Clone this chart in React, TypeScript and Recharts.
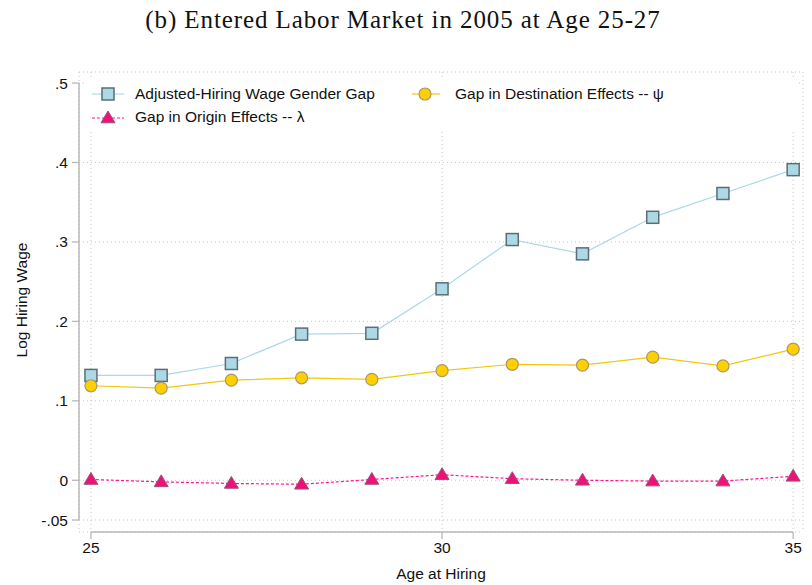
import { LineChart, Line, XAxis, YAxis, CartesianGrid, Legend, ReferenceLine } from "recharts";

const ages = [25, 26, 27, 28, 29, 30, 31, 32, 33, 34, 35];
const wageGap = [0.132, 0.132, 0.147, 0.184, 0.185, 0.241, 0.303, 0.285, 0.331, 0.361, 0.391];
const destGap = [0.119, 0.116, 0.126, 0.129, 0.127, 0.138, 0.146, 0.145, 0.155, 0.144, 0.165];
const originGap = [0.001, -0.002, -0.004, -0.005, 0.001, 0.007, 0.002, 0.0, -0.001, -0.001, 0.005];

const yTicks = [-0.05, 0, 0.1, 0.2, 0.3, 0.4, 0.5];
const xTicks = [25, 30, 35];

const X_MIN = 24.83;
const X_MAX = 35.14;
const Y_MIN = -0.0651;
const Y_MAX = 0.5139;

const COLORS = {
  gap: "#add8e6",
  gapEdge: "#5b6e76",
  dest: "#ffd000",
  destLine: "#f2c70c",
  destEdge: "#a8976a",
  origin: "#ee1177",
  originLine: "#ff1493",
  originEdge: "#9b5578",
  axis: "#b8b8b8",
  grid: "#c6c6c6",
};

const data = ages.map((age, i) => ({
  age,
  gap: wageGap[i],
  dest: destGap[i],
  origin: originGap[i],
}));

const fmtY = (v: number) => {
  if (v === 0) return "0";
  const s = String(v);
  return s.replace("0.", ".");
};

function SquareDot(props: any) {
  const { cx, cy } = props;
  if (cx == null || cy == null) return null;
  return <rect x={cx - 6} y={cy - 6} width={12} height={12} fill={COLORS.gap} stroke={COLORS.gapEdge} strokeWidth={1.5} />;
}

function CircleDot(props: any) {
  const { cx, cy } = props;
  if (cx == null || cy == null) return null;
  return <circle cx={cx} cy={cy} r={6} fill={COLORS.dest} stroke={COLORS.destEdge} strokeWidth={1.2} />;
}

function TriangleDot(props: any) {
  const { cx, cy } = props;
  if (cx == null || cy == null) return null;
  return (
    <polygon
      points={`${cx - 7},${cy + 4.8} ${cx + 7},${cy + 4.8} ${cx},${cy - 7}`}
      fill={COLORS.origin}
      stroke={COLORS.originEdge}
      strokeWidth={1}
    />
  );
}

function LegendItem({ kind, label }: { kind: "gap" | "dest" | "origin"; label: string }) {
  return (
    <div style={{ display: "flex", alignItems: "center", height: 23 }}>
      <svg width={43} height={16}>
        {kind === "gap" && (
          <>
            <line x1={0} y1={8} x2={32} y2={8} stroke={COLORS.gap} strokeWidth={1.2} />
            <rect x={10} y={2} width={12} height={12} fill={COLORS.gap} stroke={COLORS.gapEdge} strokeWidth={1.5} />
          </>
        )}
        {kind === "dest" && (
          <>
            <line x1={0} y1={8} x2={28} y2={8} stroke={COLORS.destLine} strokeWidth={1.2} />
            <circle cx={13} cy={8} r={6} fill={COLORS.dest} stroke={COLORS.destEdge} strokeWidth={1.2} />
          </>
        )}
        {kind === "origin" && (
          <>
            <line x1={0} y1={9} x2={32} y2={9} stroke={COLORS.originLine} strokeWidth={1.2} strokeDasharray="3 2" />
            <polygon points="9,13.8 23,13.8 16,2" fill={COLORS.origin} stroke={COLORS.originEdge} strokeWidth={1} />
          </>
        )}
      </svg>
      <span style={{ fontSize: 15.5, color: "#111", whiteSpace: "nowrap" }}>{label}</span>
    </div>
  );
}

function ChartLegend() {
  return (
    <div style={{ position: "relative", width: 715, height: 54, background: "#fff" }}>
      <div style={{ position: "absolute", left: 8, top: 5 }}>
        <LegendItem kind="gap" label="Adjusted-Hiring Wage Gender Gap" />
        <LegendItem kind="origin" label="Gap in Origin Effects -- λ" />
      </div>
      <div style={{ position: "absolute", left: 328, top: 5 }}>
        <LegendItem kind="dest" label="Gap in Destination Effects -- ψ" />
      </div>
    </div>
  );
}

export default function App() {
  return (
    <div
      style={{
        position: "absolute",
        left: 0,
        top: 0,
        width: 812,
        height: 585,
        background: "#fff",
        fontFamily: "'Liberation Sans', Arial, sans-serif",
      }}
    >
      <div
        style={{
          position: "absolute",
          left: 0,
          top: 6,
          width: 806,
          textAlign: "center",
          fontFamily: "'Liberation Serif', 'Times New Roman', serif",
          fontSize: 25,
          letterSpacing: 0.9,
          color: "#111",
        }}
      >
        (b) Entered Labor Market in 2005 at Age 25-27
      </div>
      <div
        style={{
          position: "absolute",
          left: 22,
          top: 300,
          transform: "translate(-50%, -50%) rotate(-90deg)",
          fontSize: 15.5,
          color: "#111",
          whiteSpace: "nowrap",
        }}
      >
        Log Hiring Wage
      </div>
      <LineChart width={812} height={585} data={data} margin={{ top: 72, right: 9, left: 0, bottom: 0 }}>
        <CartesianGrid strokeDasharray="1 3" stroke={COLORS.grid} />
        <XAxis
          dataKey="age"
          type="number"
          domain={[X_MIN, X_MAX]}
          ticks={xTicks}
          allowDataOverflow
          axisLine={false}
          tickLine={{ stroke: COLORS.axis, strokeWidth: 1.3 }}
          tickSize={7}
          tickMargin={3}
          height={53}
          tick={{ fill: "#111", fontSize: 15.5 }}
          label={{ value: "Age at Hiring", position: "insideBottom", offset: 6, fill: "#111", fontSize: 15.5 }}
        />
        <YAxis
          type="number"
          domain={[Y_MIN, Y_MAX]}
          ticks={yTicks}
          interval={0}
          allowDataOverflow
          axisLine={false}
          tickLine={{ stroke: COLORS.axis, strokeWidth: 1.3 }}
          tickSize={7}
          tickMargin={4}
          width={79}
          tickFormatter={fmtY}
          tick={{ fill: "#111", fontSize: 15.5 }}
        />
        <ReferenceLine
          segment={[{ x: 25, y: Y_MIN }, { x: 35, y: Y_MIN }]}
          stroke={COLORS.axis}
          strokeWidth={1.5}
        />
        <ReferenceLine
          segment={[{ x: X_MIN, y: -0.05 }, { x: X_MIN, y: 0.5 }]}
          stroke={COLORS.axis}
          strokeWidth={1.5}
        />
        <Legend
          layout="horizontal"
          verticalAlign="middle"
          align="center"
          content={() => <ChartLegend />}
          wrapperStyle={{ position: "absolute", left: 84, top: 77, width: 715, height: 54 }}
        />
        <Line
          dataKey="gap"
          name="Adjusted-Hiring Wage Gender Gap"
          stroke={COLORS.gap}
          strokeWidth={1.2}
          dot={<SquareDot />}
          activeDot={false}
          isAnimationActive={false}
        />
        <Line
          dataKey="dest"
          name="Gap in Destination Effects -- ψ"
          stroke={COLORS.destLine}
          strokeWidth={1.2}
          dot={<CircleDot />}
          activeDot={false}
          isAnimationActive={false}
        />
        <Line
          dataKey="origin"
          name="Gap in Origin Effects -- λ"
          stroke={COLORS.originLine}
          strokeWidth={1.2}
          strokeDasharray="3 2"
          dot={<TriangleDot />}
          activeDot={false}
          isAnimationActive={false}
        />
      </LineChart>
    </div>
  );
}
